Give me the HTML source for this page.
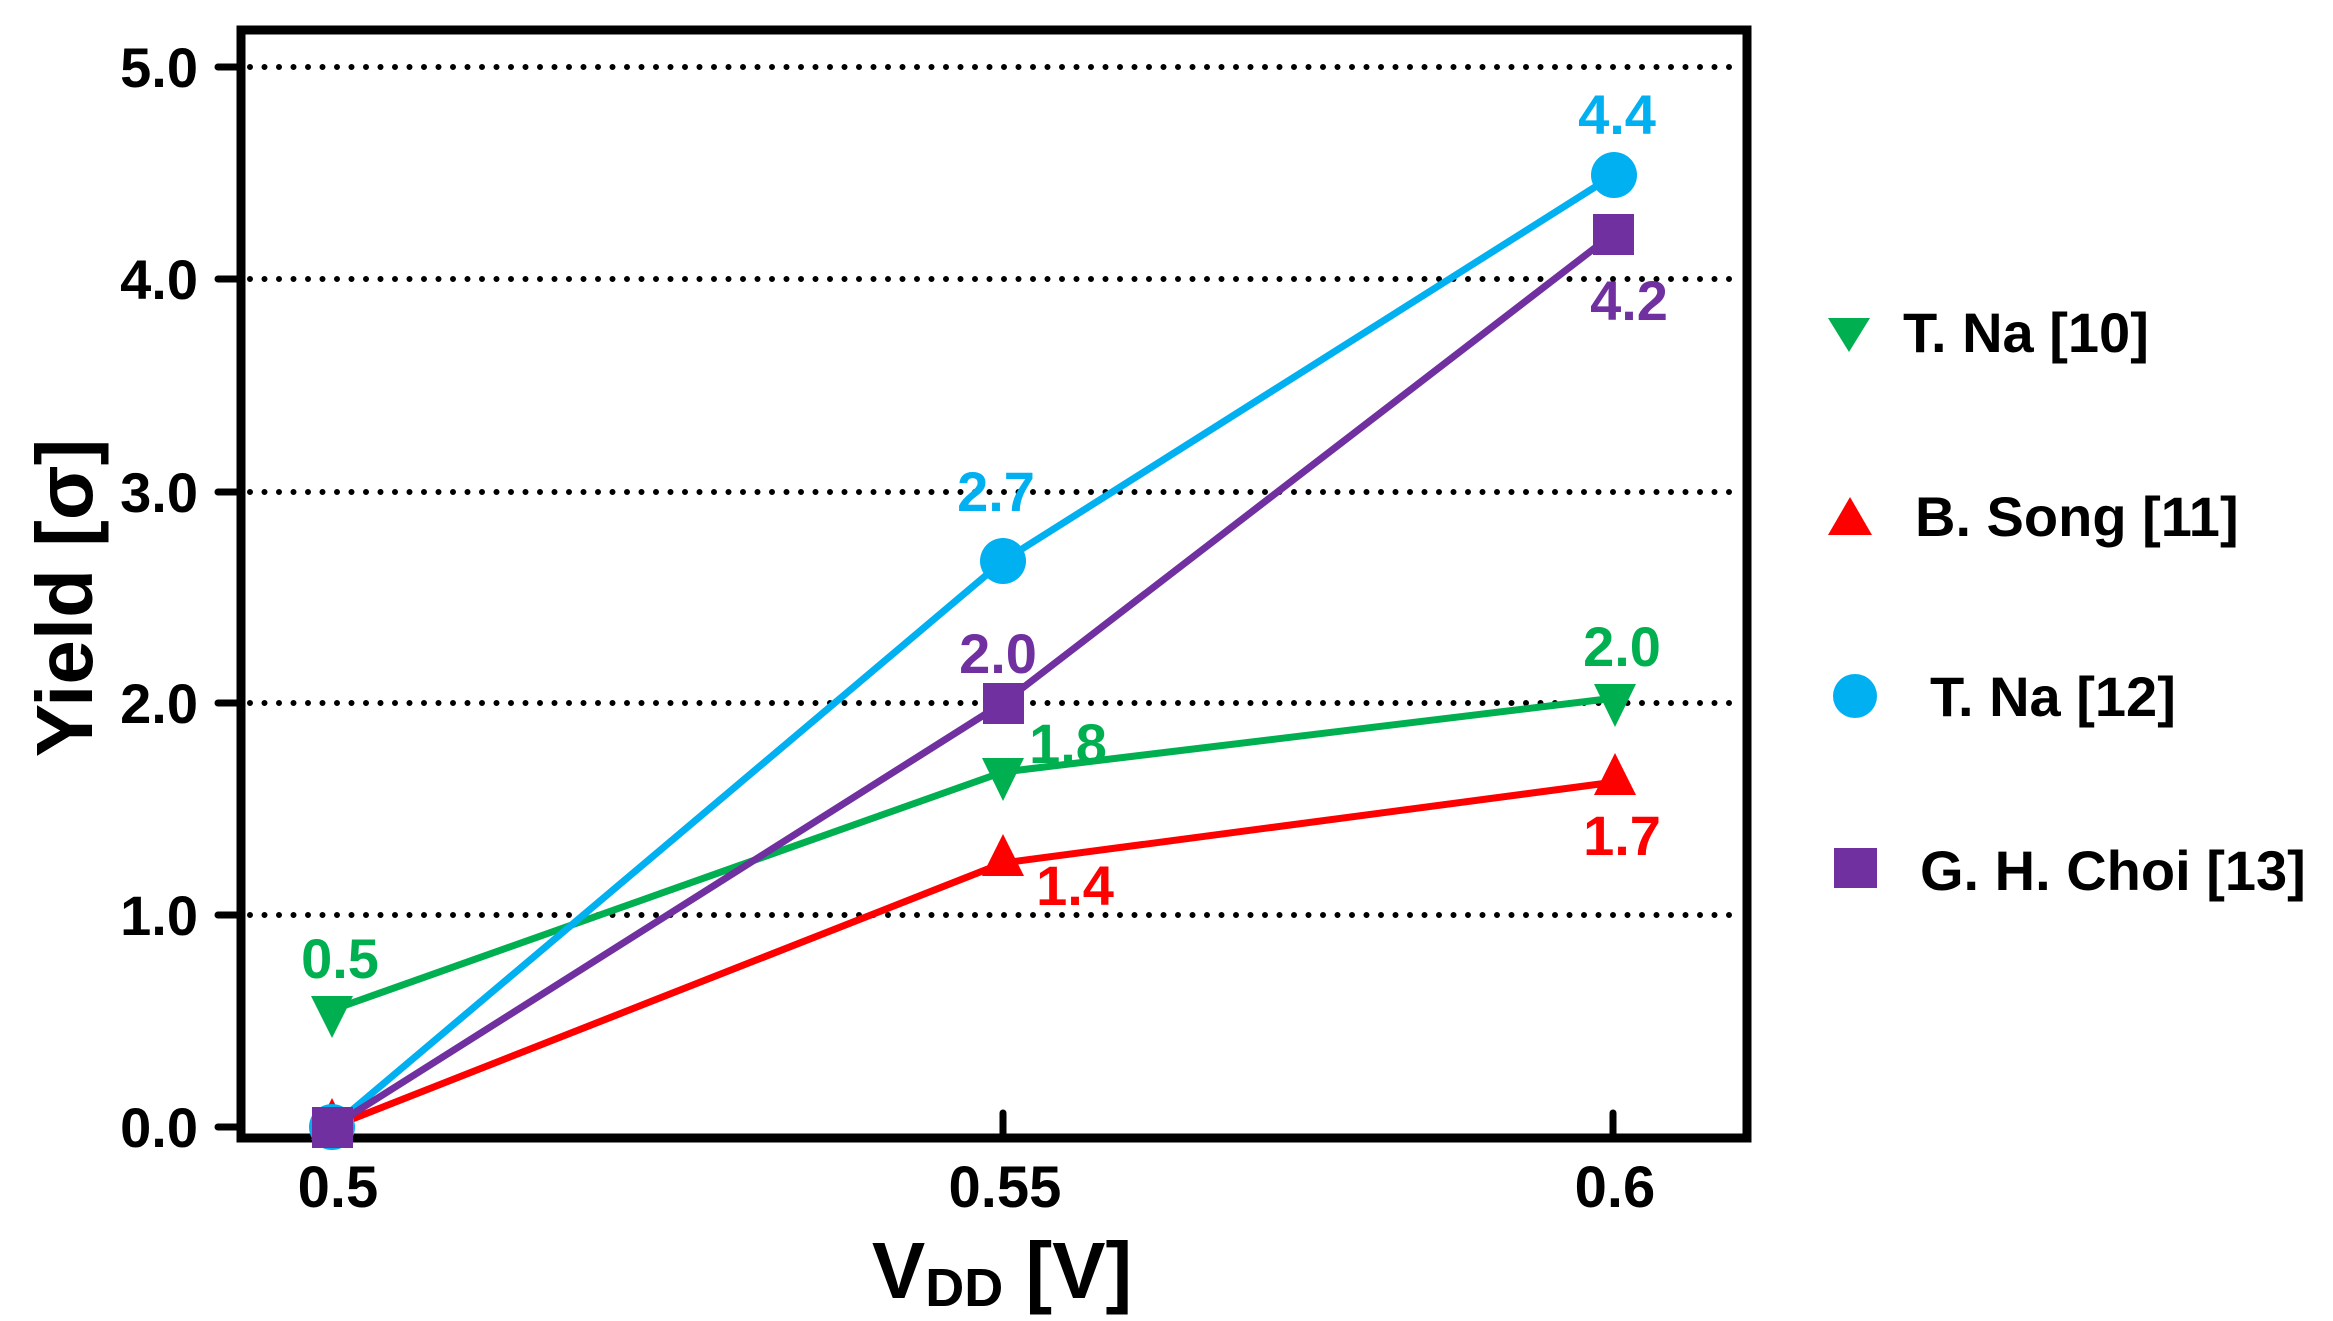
<!DOCTYPE html>
<html><head><meta charset="utf-8"><style>
html,body{margin:0;padding:0;background:#fff;}
svg{display:block;}
text{font-family:"Liberation Sans",Arial,sans-serif;font-weight:bold;}
</style></head><body>
<svg width="2333" height="1321" viewBox="0 0 2333 1321" xmlns="http://www.w3.org/2000/svg">
<g stroke="#000" stroke-width="6" stroke-linecap="round" stroke-dasharray="0 14.5" fill="none">
<line x1="250" y1="67" x2="1740" y2="67"/>
<line x1="250" y1="279" x2="1740" y2="279"/>
<line x1="250" y1="492" x2="1740" y2="492"/>
<line x1="250" y1="703" x2="1740" y2="703"/>
<line x1="250" y1="915" x2="1740" y2="915"/>
</g>
<rect x="241" y="30" width="1506" height="1108" fill="none" stroke="#000" stroke-width="9"/>
<g stroke="#000" stroke-width="7" stroke-linecap="round">
<line x1="218" y1="67" x2="241" y2="67"/>
<line x1="218" y1="279" x2="241" y2="279"/>
<line x1="218" y1="492" x2="241" y2="492"/>
<line x1="218" y1="703" x2="241" y2="703"/>
<line x1="218" y1="915" x2="241" y2="915"/>
<line x1="218" y1="1127" x2="241" y2="1127"/>
<line x1="1003" y1="1113" x2="1003" y2="1138"/>
<line x1="1613" y1="1113" x2="1613" y2="1138"/>
</g>
<g font-size="56" text-anchor="end" fill="#000">
<text x="198" y="87">5.0</text>
<text x="198" y="299">4.0</text>
<text x="198" y="512">3.0</text>
<text x="198" y="723">2.0</text>
<text x="198" y="935">1.0</text>
<text x="198" y="1147">0.0</text>
</g>
<g font-size="58" text-anchor="middle" fill="#000">
<text x="338" y="1207">0.5</text>
<text x="1005" y="1207">0.55</text>
<text x="1615" y="1207">0.6</text>
</g>
<text x="1002" y="1298" font-size="80" text-anchor="middle" fill="#000">V<tspan font-size="54" dy="8">DD</tspan><tspan dy="-8"> [V]</tspan></text>
<text transform="translate(92,598) rotate(-90)" font-size="80" text-anchor="middle" fill="#000">Yield [σ]</text>

<g fill="none" stroke-width="7" stroke-linejoin="round">
<polyline points="332,1010 1003,772 1615,698" stroke="#00b050"/>
<polyline points="332,1127 1003,863 1615,782" stroke="#ff0000"/>
<polyline points="332,1127 1003,561 1614,175" stroke="#00b0f0"/>
<polyline points="332,1127 1003,703 1613,234" stroke="#7030a0"/>
</g>
<g fill="#00b050">
<polygon points="311,996 353,996 332,1038"/>
<polygon points="982,758 1024,758 1003,801"/>
<polygon points="1594,684 1636,684 1615,727"/>
</g>
<g fill="#ff0000">
<polygon points="332,1098 311,1140 353,1140"/>
<polygon points="1003,834 982,876 1024,876"/>
<polygon points="1615,753 1594,795 1636,795"/>
</g>
<g fill="#00b0f0">
<circle cx="332" cy="1127" r="23"/>
<circle cx="1003" cy="561" r="23"/>
<circle cx="1614" cy="175" r="23"/>
</g>
<g fill="#7030a0">
<rect x="312" y="1107" width="41" height="41"/>
<rect x="983" y="683" width="41" height="41"/>
<rect x="1593" y="214" width="41" height="41"/>
</g>
<g font-size="56" text-anchor="middle">
<text x="340" y="978" fill="#00b050">0.5</text>
<text x="1068" y="763" fill="#00b050">1.8</text>
<text x="1622" y="666" fill="#00b050">2.0</text>
<text x="1075" y="905" fill="#ff0000">1.4</text>
<text x="1622" y="855" fill="#ff0000">1.7</text>
<text x="996" y="511" fill="#00b0f0">2.7</text>
<text x="1617" y="134" fill="#00b0f0">4.4</text>
<text x="998" y="673" fill="#7030a0">2.0</text>
<text x="1629" y="320" fill="#7030a0">4.2</text>
</g>
<polygon points="1828,318 1870,318 1849,352" fill="#00b050"/>
<polygon points="1850,497 1828,535 1872,535" fill="#ff0000"/>
<circle cx="1855" cy="696" r="22" fill="#00b0f0"/>
<rect x="1834" y="848" width="43" height="40" fill="#7030a0"/>
<g font-size="56" fill="#000">
<text x="1903" y="352">T. Na [10]</text>
<text x="1915" y="536">B. Song [11]</text>
<text x="1930" y="716">T. Na [12]</text>
<text x="1920" y="890">G. H. Choi [13]</text>
</g>
</svg>
</body></html>
